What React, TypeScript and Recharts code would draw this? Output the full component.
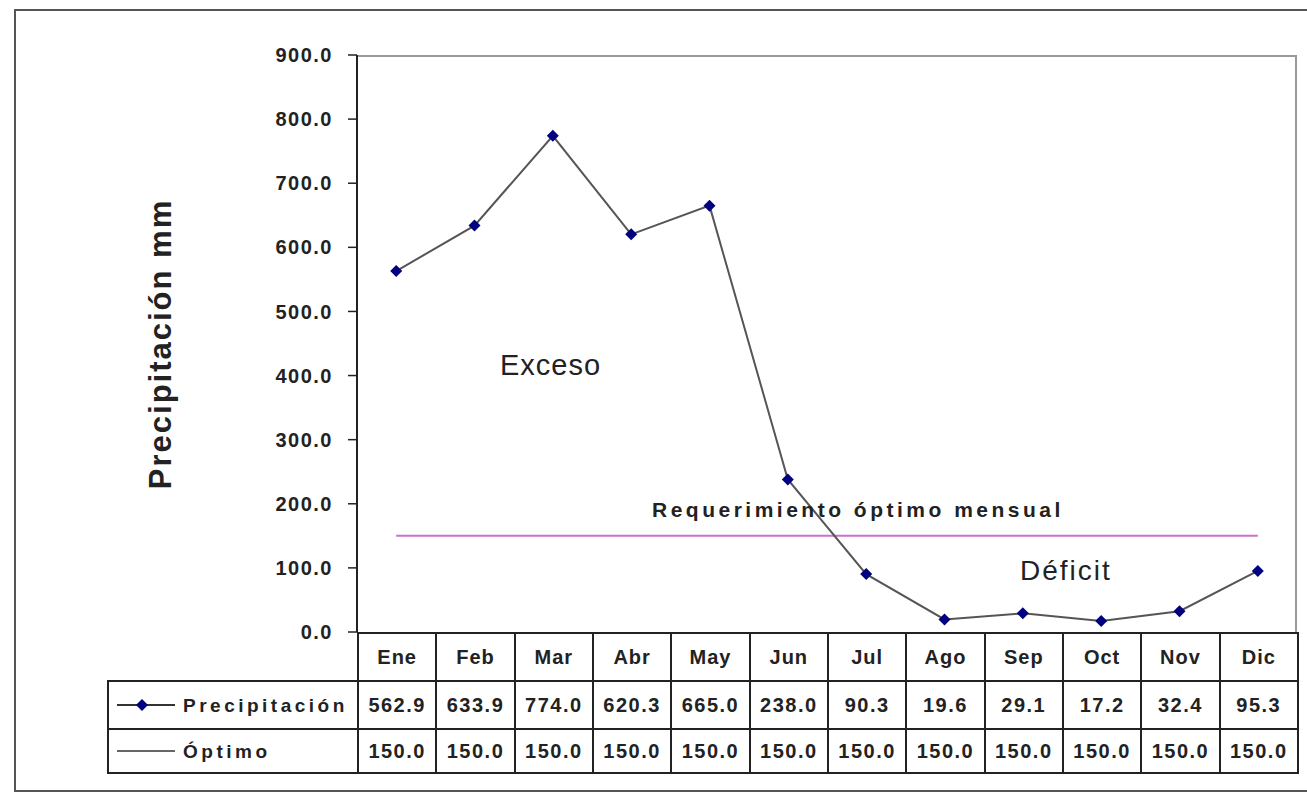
import { Line, LineChart, XAxis, YAxis } from "recharts";

const months = ["Ene", "Feb", "Mar", "Abr", "May", "Jun", "Jul", "Ago", "Sep", "Oct", "Nov", "Dic"];
const precipitacion = [562.9, 633.9, 774.0, 620.3, 665.0, 238.0, 90.3, 19.6, 29.1, 17.2, 32.4, 95.3];
const optimo = [150.0, 150.0, 150.0, 150.0, 150.0, 150.0, 150.0, 150.0, 150.0, 150.0, 150.0, 150.0];
const yTicks = [0, 100, 200, 300, 400, 500, 600, 700, 800, 900];

const data = months.map((m, i) => ({ month: m, precipitacion: precipitacion[i], optimo: optimo[i] }));

const FONT = '"Liberation Sans", Arial, sans-serif';
const W = 1307;
const H = 796;
// plot area edges (px)
const PLOT_L = 357;
const PLOT_R = 1297;
const PLOT_T = 55;
const PLOT_B = 632;
const Y_W = 80;
const COL_W = (PLOT_R - PLOT_L) / months.length;
const LABEL_W = PLOT_L - 107;
const NAVY = "#000080";
const PINK = "#cc70cc";

function Diamond(props: any) {
	const { cx, cy, index } = props;
	if (cx == null || cy == null) return <g key={index} />;
	const s = 6;
	return (
		<path
			key={index}
			d={`M${cx},${cy - s}L${cx + s},${cy}L${cx},${cy + s}L${cx - s},${cy}Z`}
			fill={NAVY}
		/>
	);
}

const cellBorder = "2px solid #222";
const cellText: React.CSSProperties = {
	fontFamily: FONT,
	fontWeight: "bold",
	fontSize: 20,
	color: "#222",
	textAlign: "center",
	border: cellBorder,
	padding: 0,
	letterSpacing: 1,
};

function DataTable() {
	return (
		<table
			style={{
				position: "absolute",
				left: 107,
				top: PLOT_B,
				width: LABEL_W + COL_W * months.length,
				borderCollapse: "collapse",
				tableLayout: "fixed",
			}}
		>
			<colgroup>
				<col style={{ width: LABEL_W }} />
				{months.map((m) => (
					<col key={m} style={{ width: COL_W }} />
				))}
			</colgroup>
			<tbody>
				<tr style={{ height: 48 }}>
					<td style={{ border: "none" }} />
					{months.map((m) => (
						<td key={m} style={cellText}>
							{m}
						</td>
					))}
				</tr>
				<tr style={{ height: 48 }}>
					<td style={{ ...cellText, textAlign: "left", paddingLeft: 8, letterSpacing: 3.5, fontSize: 19 }}>
						<svg width={62} height={20} style={{ verticalAlign: "middle", marginRight: 4 }}>
							<line x1={0} y1={10} x2={58} y2={10} stroke="#333" strokeWidth={2} />
							<path d="M25,4L31,10L25,16L19,10Z" fill={NAVY} />
						</svg>
						<span style={{ verticalAlign: "middle" }}>Precipitación</span>
					</td>
					{precipitacion.map((v, i) => (
						<td key={i} style={{ ...cellText, letterSpacing: 1.5 }}>
							{v.toFixed(1)}
						</td>
					))}
				</tr>
				<tr style={{ height: 44 }}>
					<td style={{ ...cellText, textAlign: "left", paddingLeft: 8, letterSpacing: 3.5, fontSize: 19 }}>
						<svg width={62} height={20} style={{ verticalAlign: "middle", marginRight: 4 }}>
							<line x1={0} y1={10} x2={58} y2={10} stroke="#333" strokeWidth={1.5} />
						</svg>
						<span style={{ verticalAlign: "middle" }}>Óptimo</span>
					</td>
					{optimo.map((v, i) => (
						<td key={i} style={{ ...cellText, letterSpacing: 1.5 }}>
							{v.toFixed(1)}
						</td>
					))}
				</tr>
			</tbody>
		</table>
	);
}

export default function App() {
	return (
		<div style={{ position: "fixed", left: 0, top: 0, width: W, height: H, background: "#fff", overflow: "hidden" }}>
			{/* outer chart frame, right edge runs off the picture */}
			<div
				style={{
					position: "absolute",
					left: 14,
					top: 9,
					width: W + 20,
					height: 783,
					border: "2px solid #555",
					boxSizing: "border-box",
				}}
			/>
			{/* plot area frame (top + right) */}
			<div
				style={{
					position: "absolute",
					left: PLOT_L,
					top: PLOT_T,
					width: PLOT_R - PLOT_L,
					height: PLOT_B - PLOT_T,
					borderTop: "2px solid #999",
					borderRight: "2px solid #999",
					boxSizing: "border-box",
				}}
			/>
			<div style={{ position: "absolute", left: 0, top: 0 }}>
				<LineChart
					width={W}
					height={H}
					data={data}
					margin={{ top: PLOT_T, right: W - PLOT_R, bottom: H - PLOT_B, left: PLOT_L - Y_W }}
				>
					<XAxis dataKey="month" type="category" hide padding={{ left: COL_W / 2, right: COL_W / 2 }} />
					<YAxis
						width={Y_W}
						domain={[0, 900]}
						ticks={yTicks}
						interval={0}
						tickFormatter={(v: number) => v.toFixed(1)}
						tick={{ fontFamily: FONT, fontWeight: "bold", fontSize: 20, fill: "#222", letterSpacing: 1.5 }}
						tickSize={9}
						tickMargin={15}
						stroke="#222"
						axisLine={{ stroke: "#222", strokeWidth: 2 }}
						tickLine={{ stroke: "#222", strokeWidth: 1.5 }}
					/>
					<Line
						dataKey="optimo"
						stroke={PINK}
						strokeWidth={2}
						dot={false}
						activeDot={false}
						isAnimationActive={false}
					/>
					<Line
						dataKey="precipitacion"
						stroke="#555"
						strokeWidth={2}
						dot={Diamond}
						activeDot={false}
						isAnimationActive={false}
					/>
				</LineChart>
			</div>
			<svg
				width={W}
				height={H}
				style={{ position: "absolute", left: 0, top: 0, pointerEvents: "none" }}
			>
				<text
					transform="translate(160,344) rotate(-90)"
					textAnchor="middle"
					dominantBaseline="central"
					fontFamily={FONT}
					fontWeight="bold"
					fontSize={31}
					letterSpacing={2}
					fill="#222"
				>
					Precipitación mm
				</text>
				<text x={500} y={375} fontFamily={FONT} fontSize={29} letterSpacing={1} fill="#222">
					Exceso
				</text>
				<text x={1020} y={580} fontFamily={FONT} fontSize={28} letterSpacing={2} fill="#222">
					Déficit
				</text>
				<text
					x={652}
					y={517}
					fontFamily={FONT}
					fontWeight="bold"
					fontSize={21}
					letterSpacing={3.5}
					fill="#222"
				>
					Requerimiento óptimo mensual
				</text>
			</svg>
			<DataTable />
		</div>
	);
}
